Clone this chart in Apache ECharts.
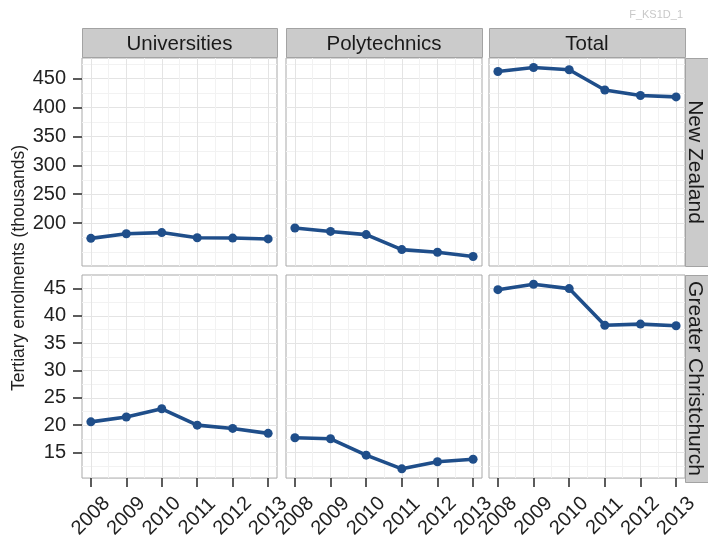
<!DOCTYPE html>
<html><head><meta charset="utf-8">
<script src="https://cdn.jsdelivr.net/npm/echarts@6/dist/echarts.min.js"></script>
<style>html,body{margin:0;padding:0;background:#fff}#c{width:708px;height:541px}</style>
</head><body><div id="c"></div>
<script>
// ---- data ----
const years = [2008, 2009, 2010, 2011, 2012, 2013];
const columns = ['Universities', 'Polytechnics', 'Total'];
const rows = ['New Zealand', 'Greater Christchurch'];
const nzUniversities = [173.5, 181.5, 183.5, 174.5, 174, 172.5];
const nzPolytechnics = [191.5, 185.5, 180, 154, 149.5, 142];
const nzTotal = [462.5, 469.5, 465.5, 430.5, 421, 418.5];
const gcUniversities = [20.6, 21.5, 23.0, 20.0, 19.4, 18.5];
const gcPolytechnics = [17.7, 17.5, 14.5, 12.0, 13.3, 13.75];
const gcTotal = [44.8, 45.8, 45.0, 38.3, 38.5, 38.2];
const yTicksTop = [200, 250, 300, 350, 400, 450];
const yMinorTop = [150, 175, 225, 275, 325, 375, 425, 475];
const yTicksBottom = [15, 20, 25, 30, 35, 40, 45];
const yMinorBottom = [12.5, 17.5, 22.5, 27.5, 32.5, 37.5, 42.5, 47.5];
const xMinor = [2008.5, 2009.5, 2010.5, 2011.5, 2012.5];
const yTitle = 'Tertiary enrolments (thousands)';
const figId = 'F_KS1D_1';

// ---- layout ----
const FONT = 'Liberation Sans';
const colX = [82, 286, 489], colW = [195, 196, 196];
const rowY = [58, 275], rowH = [208, 207];
const lineColor = '#1f4e8a';
const panelData = [[nzUniversities, nzPolytechnics, nzTotal], [gcUniversities, gcPolytechnics, gcTotal]];
const rowTicks = [yTicksTop, yTicksBottom];
const rowMinor = [yMinorTop, yMinorBottom];

function expandRange(arrs) {
  const all = [].concat(...arrs);
  const mn = Math.min(...all), mx = Math.max(...all), r = mx - mn;
  return [mn - 0.05 * r, mx + 0.05 * r];
}
const rowRange = panelData.map(expandRange);
const xr = years[years.length - 1] - years[0];
const xMin = years[0] - 0.05 * xr, xMax = years[years.length - 1] + 0.05 * xr;

const grid = [], xAxis = [], yAxis = [], series = [], graphic = [];
let g = 0;
for (let r = 0; r < 2; r++) {
  for (let c = 0; c < 3; c++) {
    grid.push({left: colX[c], top: rowY[r], width: colW[c], height: rowH[r], show: true,
      borderColor: '#a9a9a9', borderWidth: 1, backgroundColor: '#fff', containLabel: false});
    const bottomRow = r === 1, leftCol = c === 0;
    // x axis A (major)
    xAxis.push({type: 'value', gridIndex: g, min: xMin, max: xMax, position: 'bottom',
      axisLine: {show: false},
      axisTick: {show: bottomRow, customValues: years, length: 9, lineStyle: {color: '#333', width: 1.6}},
      axisLabel: {show: bottomRow, customValues: years, rotate: 45, align: 'center', verticalAlign: 'middle',
        margin: 38, fontSize: 20, color: '#222', fontFamily: FONT, formatter: v => String(v)},
      splitLine: {show: true, lineStyle: {color: '#e4e4e4', width: 1}}});
    // x axis B (minor grid)
    xAxis.push({type: 'value', gridIndex: g, min: xMin, max: xMax, position: 'top',
      axisLine: {show: false}, axisLabel: {show: false},
      axisTick: {show: false, customValues: xMinor},
      splitLine: {show: true, lineStyle: {color: '#f2f2f2', width: 1}}});
    // y axis A
    yAxis.push({type: 'value', gridIndex: g, min: rowRange[r][0], max: rowRange[r][1], position: 'left',
      axisLine: {show: false},
      axisTick: {show: leftCol, customValues: rowTicks[r], length: 9, lineStyle: {color: '#333', width: 1.6}},
      axisLabel: {show: leftCol, customValues: rowTicks[r], margin: 16, fontSize: 20, color: '#222', fontFamily: FONT},
      splitLine: {show: true, lineStyle: {color: '#e4e4e4', width: 1}}});
    yAxis.push({type: 'value', gridIndex: g, min: rowRange[r][0], max: rowRange[r][1], position: 'right',
      axisLine: {show: false}, axisLabel: {show: false},
      axisTick: {show: false, customValues: rowMinor[r]},
      splitLine: {show: true, lineStyle: {color: '#f2f2f2', width: 1}}});
    series.push({type: 'line', xAxisIndex: 2 * g, yAxisIndex: 2 * g,
      data: years.map((y, i) => [y, panelData[r][c][i]]),
      symbol: 'circle', symbolSize: 9, showSymbol: true,
      lineStyle: {color: lineColor, width: 3.6}, itemStyle: {color: lineColor}, z: 5, animation: false});
    g++;
  }
}

// strips
for (let c = 0; c < 3; c++) {
  graphic.push({type: 'rect', shape: {x: colX[c] + 0.5, y: 28.5, width: colW[c], height: 29},
    style: {fill: '#cbcbcb', stroke: '#a3a3a3', lineWidth: 1}});
  graphic.push({type: 'text', x: colX[c] + colW[c] / 2, y: 44,
    style: {text: columns[c], fontSize: 20.5, fontFamily: FONT, fill: '#1a1a1a', align: 'center', verticalAlign: 'middle'}});
}
for (let r = 0; r < 2; r++) {
  graphic.push({type: 'rect', shape: {x: 685.5, y: rowY[r] + 0.5, width: 30, height: rowH[r]},
    style: {fill: '#cbcbcb', stroke: '#a3a3a3', lineWidth: 1}});
  graphic.push({type: 'text', x: 695, y: rowY[r] + rowH[r] / 2, rotation: -Math.PI / 2,
    style: {text: rows[r], fontSize: 21, fontFamily: FONT, fill: '#1a1a1a', align: 'center', verticalAlign: 'middle'}});
}
graphic.push({type: 'text', x: 19, y: 268, rotation: Math.PI / 2,
  style: {text: yTitle, fontSize: 17.5, fontFamily: FONT, fill: '#222', align: 'center', verticalAlign: 'middle'}});
graphic.push({type: 'text', x: 683, y: 15,
  style: {text: figId, fontSize: 11, fontFamily: FONT, fill: '#c8c8c8', align: 'right', verticalAlign: 'middle'}});

const chart = echarts.init(document.getElementById('c'), null, {renderer: 'canvas'});
chart.setOption({animation: false, backgroundColor: '#fff', grid, xAxis, yAxis, series, graphic});
</script></body></html>
